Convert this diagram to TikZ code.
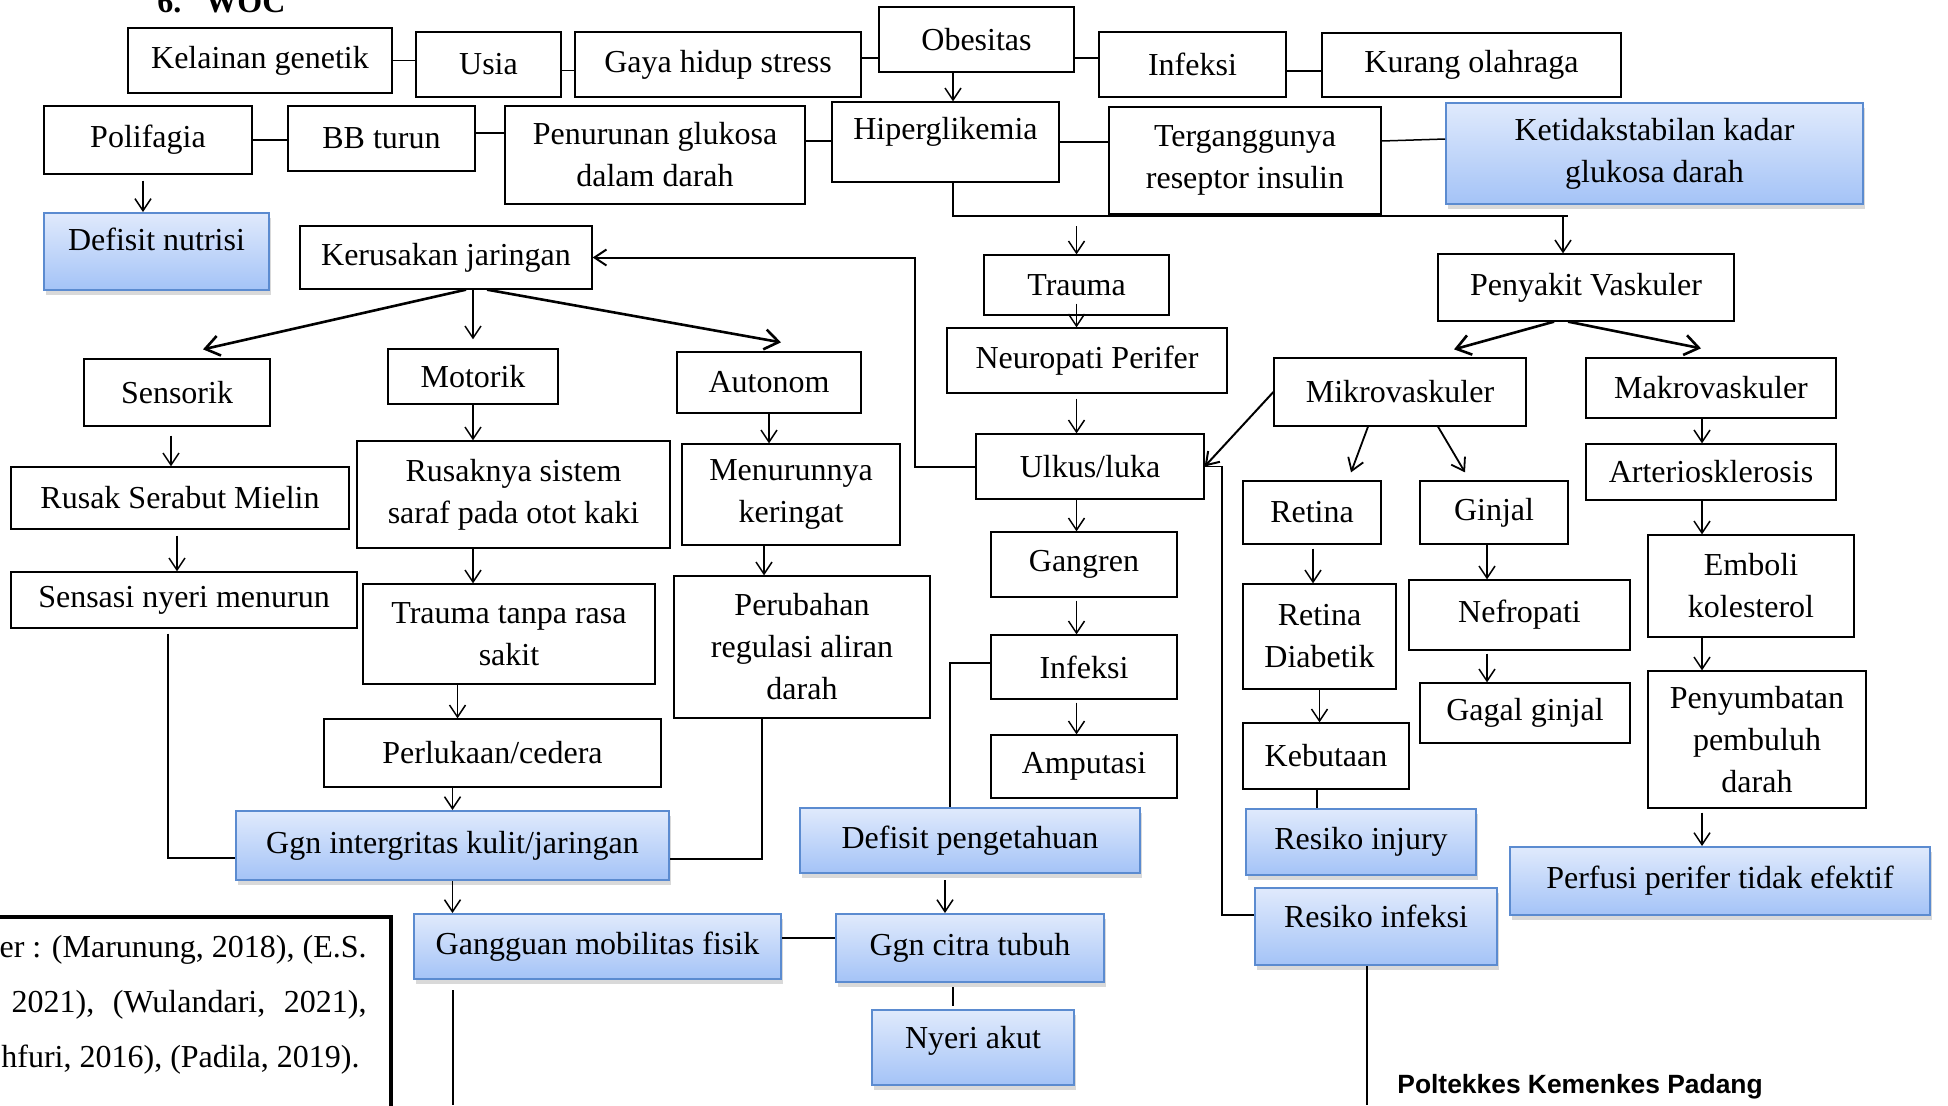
\documentclass[tikz,border=0pt]{standalone}
\usepackage{fontspec}
\setmainfont{Liberation Serif}
\newfontfamily\arialfont{Liberation Sans}
\usetikzlibrary{arrows.meta,shadows}
\definecolor{birumuda}{RGB}{224,234,252}
\definecolor{birutua}{RGB}{164,195,247}
\definecolor{garisbiru}{RGB}{91,139,208}

\begin{document}
\begin{tikzpicture}[x=0.5pt,y=-0.5pt,
	kotak/.style={draw,line width=0.65pt,inner sep=1pt,align=center,font=\fontsize{16}{21}\selectfont},
	biru/.style={kotak,draw=garisbiru,line width=1pt,top color=birumuda,bottom color=birutua,
		drop shadow={shadow xshift=1pt,shadow yshift=-2.5pt,opacity=.3}},
	ukuran/.style 2 args={minimum width=#1pt,minimum height=#2pt},
	garis/.style={line width=0.75pt},
	panah/.style={-{Straight Barb[length=6pt,width=8pt]},line width=0.75pt},
	tebal/.style={-{Straight Barb[length=7pt,width=10pt]},line width=1.3pt}]
	\useasboundingbox (0,0) rectangle (1948,1105);
	\clip (0,0) rectangle (1948,1105);

	% jalur-jalur tegak
	\coordinate (kObes) at (953,0);
	\coordinate (kNutrisi) at (143,0);
	\coordinate (kCabang) at (1568,216);
	\coordinate (kTengah) at (1076.5,0);
	\coordinate (kBalik) at (915,257.5);
	\coordinate (kSensorik) at (171,0);
	\coordinate (kMielin) at (177,0);
	\coordinate (kSensasi) at (168,0);
	\coordinate (kMotorik) at (473,0);
	\coordinate (kPerluka) at (457.5,0);
	\coordinate (kKeringat) at (764,0);
	\coordinate (kRegulasi) at (762,0);
	\coordinate (kInfeksi) at (950,0);
	\coordinate (kCitra) at (945,0);
	\coordinate (kNyeri) at (953,0);
	\coordinate (kUlkus) at (1222,0);
	\coordinate (kRetina) at (1313,0);
	\coordinate (kKebutaan) at (1317,0);
	\coordinate (kGinjal) at (1487,0);
	\coordinate (kMakro) at (1702,0);
	\coordinate (kResiko) at (1367,1105);
	\coordinate (kMobil) at (453,1105);

	\node[anchor=base west,inner sep=0,font=\fontsize{16}{19}\selectfont\bfseries] (judul) at (157,12) {6.\hspace{12pt}WOC};

	% baris atas
	\node[kotak,ukuran={132}{32.5}] (genetik) at (260,60.5) {Kelainan genetik};
	\node[kotak,ukuran={72.5}{32.5}] (usia) at (488.5,64.5) {Usia};
	\node[kotak,ukuran={143}{32.5}] (gaya) at (718,64.5) {Gaya hidup stress};
	\node[kotak,ukuran={97.5}{32.5}] (obesitas) at (976.5,39.5) {Obesitas};
	\node[kotak,ukuran={93.5}{32.5}] (infeksiatas) at (1192.5,64.5) {Infeksi};
	\node[kotak,ukuran={149.5}{32}] (olahraga) at (1471.5,65) {Kurang olahraga};

	\node[kotak,ukuran={104}{34}] (polifagia) at (148,140) {Polifagia};
	\node[kotak,ukuran={93.5}{32.5}] (bbturun) at (381.5,138.5) {BB turun};
	\node[kotak,ukuran={150}{49}] (penurunan) at (655,155) {Penurunan glukosa\\dalam darah};
	\node[kotak,ukuran={113.5}{40},text height=11pt,text depth=14pt] (hiper) at (945.5,142) {Hiperglikemia};
	\node[kotak,ukuran={136}{53.5}] (reseptor) at (1245,160.5) {Terganggunya\\reseptor insulin};
	\node[biru,ukuran={208.5}{50.5}] (ketidakstabilan) at (1654.5,153.5) {Ketidakstabilan kadar\\glukosa darah};

	\node[biru,ukuran={112.5}{38.5},text height=11pt,text depth=12pt] (nutrisi) at (156.5,251.5) {Defisit nutrisi};
	\node[kotak,ukuran={146}{31.5}] (kerusakan) at (446,257.5) {Kerusakan jaringan};
	\node[kotak,ukuran={92.5}{30}] (trauma) at (1076.5,285) {Trauma};
	\node[kotak,ukuran={148}{33.5}] (vaskuler) at (1586,287.5) {Penyakit Vaskuler};

	% cabang kiri
	\node[kotak,ukuran={93}{33.5}] (sensorik) at (177,392.5) {Sensorik};
	\node[kotak,ukuran={85}{27.5}] (motorik) at (473,376.5) {Motorik};
	\node[kotak,ukuran={92}{30.5}] (otonom) at (769,382.5) {Autonom};
	\node[kotak,ukuran={169}{31}] (mielin) at (180,498) {Rusak Serabut Mielin};
	\node[kotak,ukuran={156.5}{53.5}] (saraf) at (513.5,494.5) {Rusaknya sistem\\saraf pada otot kaki};
	\node[kotak,ukuran={109}{50.5}] (keringat) at (791,494.5) {Menurunnya\\keringat};
	\node[kotak,ukuran={173}{28}] (sensasi) at (184,600) {Sensasi nyeri menurun};
	\node[kotak,ukuran={146}{50}] (tanparasa) at (509,634) {Trauma tanpa rasa\\sakit};
	\node[kotak,ukuran={128}{71}] (regulasi) at (802,647) {Perubahan\\regulasi aliran\\darah};
	\node[kotak,ukuran={168.5}{34}] (perlukaan) at (492.5,753) {Perlukaan/cedera};

	% tengah
	\node[kotak,ukuran={140}{32.5}] (neuropati) at (1087,360.5) {Neuropati Perifer};
	\node[kotak,ukuran={114}{32.5}] (ulkus) at (1090,466.5) {Ulkus/luka};
	\node[kotak,ukuran={93}{32.5}] (gangren) at (1084,564.5) {Gangren};
	\node[kotak,ukuran={93}{32}] (infeksi) at (1084,667) {Infeksi};
	\node[kotak,ukuran={93}{31.5}] (amputasi) at (1084,766.5) {Amputasi};

	% cabang kanan
	\node[kotak,ukuran={126}{34}] (mikro) at (1400,392) {Mikrovaskuler};
	\node[kotak,ukuran={125}{30}] (makro) at (1711,388) {Makrovaskuler};
	\node[kotak,ukuran={69}{31.5}] (retina) at (1312,512.5) {Retina};
	\node[kotak,ukuran={74}{31.5}] (ginjal) at (1494,512.5) {Ginjal};
	\node[kotak,ukuran={125}{28}] (arterio) at (1711,472) {Arteriosklerosis};
	\node[kotak,ukuran={103}{51}] (emboli) at (1751,586) {Emboli\\kolesterol};
	\node[kotak,ukuran={76.5}{52.5}] (diabetik) at (1319.5,636.5) {Retina\\Diabetik};
	\node[kotak,ukuran={110.5}{35}] (nefropati) at (1519.5,615) {Nefropati};
	\node[kotak,ukuran={109}{68.5}] (sumbatan) at (1757,739.5) {Penyumbatan\\pembuluh\\darah};
	\node[kotak,ukuran={105}{30}] (gagal) at (1525,713) {Gagal ginjal};
	\node[kotak,ukuran={83}{33}] (kebutaan) at (1326,756) {Kebutaan};

	% diagnosa
	\node[biru,ukuran={170}{32.5}] (pengetahuan) at (970,840.5) {Defisit pengetahuan};
	\node[biru,ukuran={115}{33}] (injury) at (1361,842) {Resiko injury};
	\node[biru,ukuran={216.5}{34.5}] (integritas) at (452.5,845.5) {Ggn intergritas kulit/jaringan};
	\node[biru,ukuran={210}{34}] (perfusi) at (1720,881) {Perfusi perifer tidak efektif};
	\node[biru,ukuran={121}{38.5},text height=11pt,text depth=10.5pt] (resikoinfeksi) at (1376,926.5) {Resiko infeksi};
	\node[biru,ukuran={183.5}{32.5}] (mobilitas) at (597.5,946.5) {Gangguan mobilitas fisik};
	\node[biru,ukuran={134}{34}] (citra) at (970,948) {Ggn citra tubuh};
	\node[biru,ukuran={101}{37.5},text height=11pt,text depth=10.5pt] (nyeri) at (973,1047.5) {Nyeri akut};

	% sumber
	\draw[line width=2pt] (-10,917) rectangle (391,1120);
	\node[anchor=base east,inner sep=0,font=\fontsize{16}{21}\selectfont] (sumber1) at (367,957) {ber : (Marunung, 2018), (E.S.};
	\node[anchor=base east,inner sep=0,font=\fontsize{16}{21}\selectfont] (sumber2) at (367,1012) {\makebox[177.5pt][s]{2021), (Wulandari, 2021),}};
	\node[anchor=base west,inner sep=0,font=\fontsize{16}{21}\selectfont] (sumber3) at (1,1067) {hfuri, 2016), (Padila, 2019).};
	\node[anchor=base west,inner sep=0,font=\arialfont\bfseries\fontsize{13.2}{15}\selectfont] (poltekkes) at (1397,1093) {Poltekkes Kemenkes Padang};

	% garis baris atas
	\draw[garis] (genetik.east) -- (genetik.east -| usia.west);
	\draw[garis] ([yshift=-3pt]usia.east) -- ([yshift=-3pt]usia.east -| gaya.west);
	\draw[garis] ([yshift=3.25pt]gaya.east) -- ([yshift=3.25pt]gaya.east -| obesitas.west);
	\draw[garis] ([yshift=-9.25pt]obesitas.east) -- ([yshift=-9.25pt]obesitas.east -| infeksiatas.west);
	\draw[garis] ([yshift=-3.25pt]infeksiatas.east) -- ([yshift=-3.25pt]infeksiatas.east -| olahraga.west);
	\draw[panah] (kObes |- obesitas.south) -- (kObes |- hiper.north);

	\draw[garis] (polifagia.east) -- (polifagia.east -| bbturun.west);
	\draw[garis] ([yshift=2.75pt]bbturun.east) -- ([yshift=2.75pt]bbturun.east -| penurunan.west);
	\draw[garis] ([yshift=7pt]penurunan.east) -- ([yshift=7pt]penurunan.east -| hiper.west);
	\draw[garis] (hiper.east) -- (hiper.east -| reseptor.west);
	\draw[garis] ([yshift=9.75pt]reseptor.east) -- ([yshift=7.25pt]ketidakstabilan.west);
	\draw[panah] ([yshift=-3pt]kNutrisi |- polifagia.south) -- (kNutrisi |- nutrisi.north);

	% cabang hiperglikemia
	\draw[garis,line width=1pt] (kObes |- hiper.south) |- (kCabang);
	\draw[panah] ([xshift=-2.5pt]kCabang) -- ([xshift=-2.5pt]kCabang |- vaskuler.north);
	\draw[panah] ([yshift=14pt]trauma.north) -- (trauma.north);
	\draw[panah] ([yshift=6pt]kTengah |- trauma.south) -- (kTengah |- neuropati.north);
	\draw[panah] ([yshift=-2.5pt]kTengah |- neuropati.south) -- (kTengah |- ulkus.north);
	\draw[panah] (kTengah |- ulkus.south) -- (kTengah |- gangren.north);
	\draw[panah] ([yshift=-1.5pt]kTengah |- gangren.south) -- (kTengah |- infeksi.north);
	\draw[panah] ([yshift=-1.5pt]kTengah |- infeksi.south) -- (kTengah |- amputasi.north);
	\draw[panah,line width=1pt] (ulkus.west) -| (kBalik) -- (kerusakan.east);

	% kerusakan jaringan
	\draw[tebal] ([xshift=10pt]kerusakan.south) -- ([xshift=13pt,yshift=4.5pt]sensorik.north);
	\draw[panah] (kMotorik |- kerusakan.south) -- ([yshift=4.5pt]motorik.north);
	\draw[tebal] ([xshift=20.5pt]kerusakan.south) -- ([xshift=6pt,yshift=4.5pt]otonom.north);

	\draw[panah] ([yshift=-4.5pt]kSensorik |- sensorik.south) -- (kSensorik |- mielin.north);
	\draw[panah] ([yshift=-3pt]kMielin |- mielin.south) -- (kMielin |- sensasi.north);
	\draw[garis] ([yshift=-2.5pt]kSensasi |- sensasi.south) |- ([yshift=-6.25pt]integritas.west);

	\draw[panah] (motorik.south) -- (motorik.south |- saraf.north);
	\draw[panah] (kMotorik |- saraf.south) -- (kMotorik |- tanparasa.north);
	\draw[panah] (kPerluka |- tanparasa.south) -- (kPerluka |- perlukaan.north);
	\draw[panah] (perlukaan.south -| integritas.north) -- (integritas.north);
	\draw[panah] (integritas.south) -- (integritas.south |- mobilitas.north);
	\draw[garis] ([yshift=-5pt]kMobil |- mobilitas.south) -- (kMobil);

	\draw[panah] (otonom.south) -- (otonom.south |- keringat.north);
	\draw[panah] (kKeringat |- keringat.south) -- (kKeringat |- regulasi.north);
	\draw[garis] (kRegulasi |- regulasi.south) |- ([yshift=-6.75pt]integritas.east);

	% infeksi
	\draw[garis] ([yshift=2pt]infeksi.west) -| (kInfeksi |- pengetahuan.north);
	\draw[panah] ([yshift=-3pt]kCitra |- pengetahuan.south) -- (kCitra |- citra.north);
	\draw[garis] ([yshift=4.25pt]mobilitas.east) -- ([yshift=4.25pt]mobilitas.east -| citra.west);
	\draw[garis] ([yshift=-2pt]kNyeri |- citra.south) -- ([yshift=1.5pt]kNyeri |- nyeri.north);

	% penyakit vaskuler
	\draw[tebal] ([xshift=-16pt]vaskuler.south) -- ([xshift=27pt,yshift=4pt]mikro.north);
	\draw[tebal] ([xshift=-9pt]vaskuler.south) -- ([xshift=-5pt,yshift=4.5pt]makro.north);
	\draw[panah,line width=1pt] (mikro.west) -- (ulkus.east);
	\draw[panah,line width=0.9pt] ([xshift=-16pt]mikro.south) -- ([xshift=19.5pt,yshift=4pt]retina.north);
	\draw[panah,line width=0.9pt] ([xshift=19pt]mikro.south) -- ([xshift=-14.5pt,yshift=4pt]ginjal.north);
	\draw[garis] (ulkus.east) -- (kUlkus |- ulkus.east) |- ([yshift=5.75pt]resikoinfeksi.west);

	\draw[panah] ([yshift=-2pt]kRetina |- retina.south) -- (kRetina |- diabetik.north);
	\draw[panah] (diabetik.south) -- (diabetik.south |- kebutaan.north);
	\draw[garis] (kKebutaan |- kebutaan.south) -- (kKebutaan |- injury.north);
	\draw[panah] (kGinjal |- ginjal.south) -- (kGinjal |- nefropati.north);
	\draw[panah] ([yshift=-1.5pt]kGinjal |- nefropati.south) -- (kGinjal |- gagal.north);
	\draw[panah] (kMakro |- makro.south) -- (kMakro |- arterio.north);
	\draw[panah] (kMakro |- arterio.south) -- (kMakro |- emboli.north);
	\draw[panah] (kMakro |- emboli.south) -- (kMakro |- sumbatan.north);
	\draw[panah] ([yshift=-2pt]kMakro |- sumbatan.south) -- (kMakro |- perfusi.north);
	\draw[garis] ([xshift=-4.5pt]resikoinfeksi.south) -- (kResiko);
\end{tikzpicture}
\end{document}
